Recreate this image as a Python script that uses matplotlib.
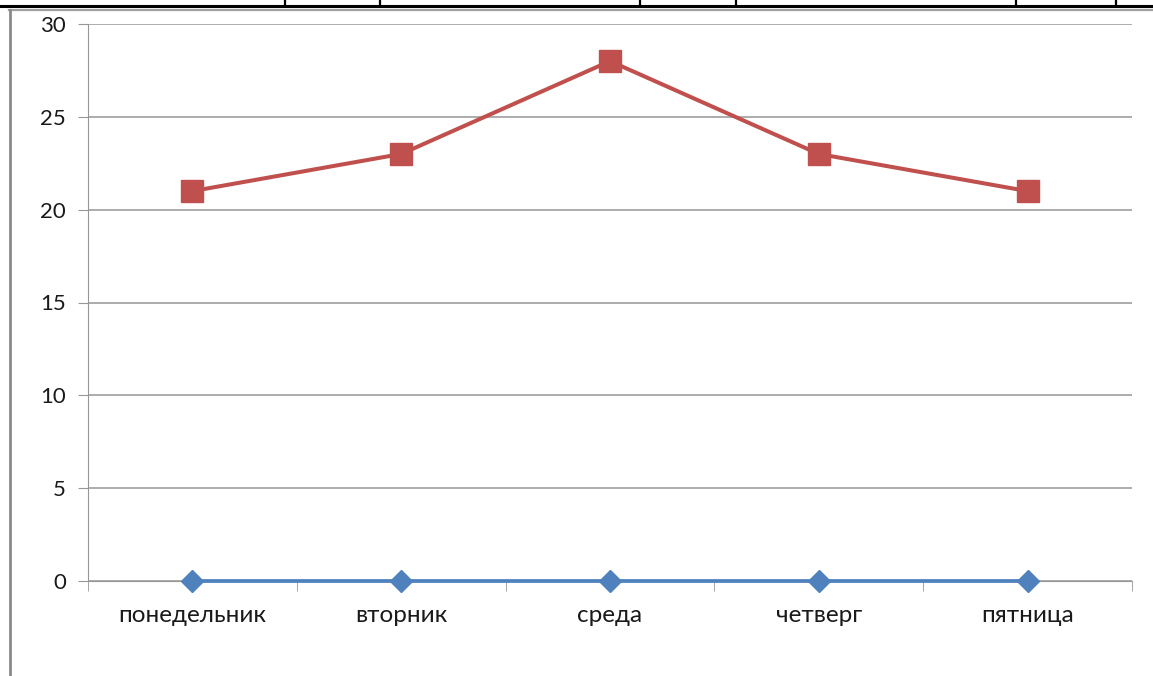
import matplotlib.pyplot as plt
from matplotlib.lines import Line2D

days = ['понедельник', 'вторник', 'среда', 'четверг', 'пятница']
series_red = [21, 23, 28, 23, 21]
series_blue = [0, 0, 0, 0, 0]
y_ticks = [0, 5, 10, 15, 20, 25, 30]

plt.rcParams['font.family'] = ['Lato', 'DejaVu Sans']

fig = plt.figure(figsize=(11.53, 6.76), dpi=100)
W, H = 1153, 676

# frame of the page around the chart
fig.add_artist(Line2D([0, 1], [1 - 6/H, 1 - 6/H], color='black', lw=2.2))
for px in [285, 380, 640, 736, 1016, 1116]:
    fig.add_artist(Line2D([px/W, px/W], [1, 1 - 6/H], color='black', lw=1.6))
fig.add_artist(Line2D([9/W, 1], [1 - 9.5/H, 1 - 9.5/H], color='#a0a0a0', lw=1.6))
fig.add_artist(Line2D([9.5/W, 9.5/W], [0, 1 - 9.5/H], color='#8a8a8a', lw=2))

ax = fig.add_axes([88/W, 1 - 581/H, (1132 - 88)/W, (581 - 24)/H])

x = list(range(len(days)))
ax.plot(x, series_blue, color='#4F81BD', lw=2.7, marker='D', markersize=11.5,
        clip_on=False, zorder=3)
ax.plot(x, series_red, color='#C0504D', lw=2.9, marker='s', markersize=16,
        clip_on=False, zorder=3)

ax.set_xlim(-0.5, len(days) - 0.5)
ax.set_ylim(0, 30)
ax.set_yticks(y_ticks)
ax.set_yticklabels([str(t) for t in y_ticks], fontsize=16, color='#1a1a1a')
ax.set_xticks(x)
ax.set_xticklabels(days, fontsize=17.5, color='#1a1a1a')
ax.set_xticks([i + 0.5 for i in range(-1, len(days))], minor=True)

ax.grid(axis='y', color='#969696', lw=1.1)
ax.set_axisbelow(True)
for side in ['top', 'right']:
    ax.spines[side].set_visible(False)
ax.spines['left'].set_color('#969696')
ax.spines['bottom'].set_color('#969696')
ax.tick_params(axis='y', length=7, color='#969696', pad=9)
ax.tick_params(axis='x', which='major', length=0, pad=17)
ax.tick_params(axis='x', which='minor', length=7, color='#969696')

fig.savefig('out.png', dpi=100)
